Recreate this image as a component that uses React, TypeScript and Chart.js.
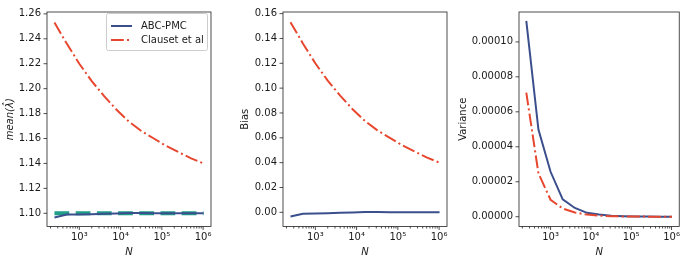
import { useEffect, useRef } from 'react';
import { Chart, registerables } from 'chart.js';

Chart.register(...registerables);

// ---- data ----
const sampleSizes = [250, 500, 1000, 2000, 4000, 8000, 16000, 32000, 64000, 128000, 256000, 512000, 1024000];
const trueLambda = [1.1, 1.1, 1.1, 1.1, 1.1, 1.1, 1.1, 1.1, 1.1, 1.1, 1.1, 1.1, 1.1];
const meanABC = [1.0967, 1.099, 1.099, 1.0992, 1.0996, 1.0999, 1.1002, 1.1002, 1.1001, 1.1001, 1.1, 1.1, 1.1];
const meanClauset = [1.253, 1.236, 1.22, 1.206, 1.194, 1.183, 1.1735, 1.166, 1.16, 1.154, 1.149, 1.144, 1.14];
const biasABC = [-0.0033, -0.0011, -0.001, -0.0008, -0.0004, -0.0001, 0.0002, 0.0002, 0.0001, 0.0001, 0.0, 0.0, 0.0];
const biasClauset = [0.153, 0.136, 0.12, 0.106, 0.094, 0.083, 0.0735, 0.066, 0.06, 0.054, 0.049, 0.044, 0.04];
const varABC = [1.12e-4, 4.98e-5, 2.57e-5, 9.9e-6, 5.0e-6, 2.2e-6, 1.2e-6, 6e-7, 3e-7, 1.5e-7, 8e-8, 4e-8, 2e-8];
const varClauset = [7.1e-5, 2.48e-5, 9.7e-6, 4.7e-6, 2.4e-6, 1.2e-6, 6e-7, 3e-7, 1.5e-7, 8e-8, 4e-8, 2e-8, 1e-8];

const xMajorTicks = [1e3, 1e4, 1e5, 1e6];
const xMinorTicks = [200, 300, 400, 500, 600, 700, 800, 900, 2e3, 3e3, 4e3, 5e3, 6e3, 7e3, 8e3, 9e3, 2e4, 3e4, 4e4, 5e4, 6e4, 7e4, 8e4, 9e4, 2e5, 3e5, 4e5, 5e5, 6e5, 7e5, 8e5, 9e5];
const meanTicks = [1.1, 1.12, 1.14, 1.16, 1.18, 1.2, 1.22, 1.24, 1.26];
const biasTicks = [0, 0.02, 0.04, 0.06, 0.08, 0.1, 0.12, 0.14, 0.16];
const varTicks = [0, 0.00002, 0.00004, 0.00006, 0.00008, 0.0001];

const seriesNames = ['ABC-PMC', 'Clauset et al'];

// ---- styles ----
const BLUE = '#3b4f8c';
const RED = '#e8472f';
const TEAL = '#1f9e89';
const FONT = "'DejaVu Sans', sans-serif";
const TEXT = '#1a1a1a';
const W = 685;
const H = 257;

const SUP: Record<string, string> = { '0': '⁰', '1': '¹', '2': '²', '3': '³', '4': '⁴', '5': '⁵', '6': '⁶', '7': '⁷', '8': '⁸', '9': '⁹' };

const decorPlugin = {
  id: 'decor',
  afterDatasetsDraw(chart: any, _args: any, opts: any) {
    const { ctx, chartArea: a, scales } = chart;
    ctx.save();
    ctx.strokeStyle = '#222';
    ctx.lineWidth = 0.8;
    ctx.strokeRect(a.left, a.top, a.right - a.left, a.bottom - a.top);
    const xs = scales.x;
    const ys = scales.y;
    ctx.beginPath();
    for (const v of xMajorTicks) {
      const px = xs.getPixelForValue(v);
      ctx.moveTo(px, a.bottom);
      ctx.lineTo(px, a.bottom + 3.5);
    }
    for (const v of xMinorTicks) {
      if (v < xs.min || v > xs.max) continue;
      const px = xs.getPixelForValue(v);
      ctx.moveTo(px, a.bottom);
      ctx.lineTo(px, a.bottom + 2);
    }
    for (const t of ys.ticks) {
      const py = ys.getPixelForValue(t.value);
      ctx.moveTo(a.left - 3.5, py);
      ctx.lineTo(a.left, py);
    }
    ctx.stroke();

    if (opts && opts.legend) {
      const right = a.right - 4;
      const left = right - 101;
      const top = a.top + 1;
      const bottom = top + 37;
      ctx.fillStyle = 'rgba(255,255,255,0.85)';
      ctx.strokeStyle = '#cccccc';
      ctx.lineWidth = 1;
      ctx.beginPath();
      (ctx as any).roundRect(left + 0.5, top + 0.5, right - left, bottom - top, 2);
      ctx.fill();
      ctx.stroke();
      const rows = [
        { y: top + 13, color: BLUE, dash: [] as number[], label: seriesNames[0] },
        { y: top + 27, color: RED, dash: [12.8, 3.2, 2, 3.2], label: seriesNames[1] },
      ];
      for (const r of rows) {
        ctx.beginPath();
        ctx.strokeStyle = r.color;
        ctx.lineWidth = 2;
        ctx.setLineDash(r.dash);
        ctx.moveTo(left + 5, r.y);
        ctx.lineTo(left + 26, r.y);
        ctx.stroke();
        ctx.setLineDash([]);
        ctx.fillStyle = TEXT;
        ctx.font = `10px ${FONT}`;
        ctx.textBaseline = 'middle';
        ctx.textAlign = 'left';
        ctx.fillText(r.label, left + 35, r.y);
      }
    }
    ctx.restore();
  },
};

type PanelCfg = {
  boxLeft: number;
  boxWidth: number;
  plotLeft: number;
  plotRight: number;
  yMin: number;
  yMax: number;
  yTicks: number[];
  decimals: number;
  yTitle: string;
  yTitlePad: number;
  yTitleItalic: boolean;
  abc: number[];
  clauset: number[];
  truth?: number[];
  legend?: boolean;
};

const panels: PanelCfg[] = [
  {
    boxLeft: 0, boxWidth: 230, plotLeft: 47, plotRight: 211,
    yMin: 1.0894, yMax: 1.2615, yTicks: meanTicks, decimals: 2,
    yTitle: 'mean(λ\u0302)', yTitlePad: 5, yTitleItalic: true,
    abc: meanABC, clauset: meanClauset, truth: trueLambda, legend: true,
  },
  {
    boxLeft: 230, boxWidth: 225, plotLeft: 283, plotRight: 447,
    yMin: -0.0114, yMax: 0.1613, yTicks: biasTicks, decimals: 2,
    yTitle: 'Bias', yTitlePad: 10, yTitleItalic: false,
    abc: biasABC, clauset: biasClauset,
  },
  {
    boxLeft: 455, boxWidth: 230, plotLeft: 519, plotRight: 683,
    yMin: -0.0000056, yMax: 0.0001171, yTicks: varTicks, decimals: 5,
    yTitle: 'Variance', yTitlePad: 3, yTitleItalic: false,
    abc: varABC, clauset: varClauset,
  },
];

function buildChart(canvas: HTMLCanvasElement, p: PanelCfg) {
  const datasets: any[] = [
    {
      label: seriesNames[0],
      data: sampleSizes.map((n, i) => ({ x: n, y: p.abc[i] })),
      borderColor: BLUE, borderWidth: 2, pointRadius: 0, tension: 0, order: 2,
    },
    {
      label: seriesNames[1],
      data: sampleSizes.map((n, i) => ({ x: n, y: p.clauset[i] })),
      borderColor: RED, borderWidth: 2, borderDash: [12.8, 3.2, 2, 3.2], pointRadius: 0, tension: 0, order: 1,
    },
  ];
  if (p.truth) {
    datasets.push({
      label: 'true',
      data: sampleSizes.map((n, i) => ({ x: n, y: p.truth![i] })),
      borderColor: TEAL, borderWidth: 4, borderDash: [14.8, 6.4], borderCapStyle: 'butt',
      pointRadius: 0, tension: 0, order: 3,
    });
  }
  return new Chart(canvas, {
    type: 'line',
    data: { datasets },
    plugins: [decorPlugin],
    options: {
      animation: false,
      responsive: false,
      devicePixelRatio: 1,
      layout: { padding: { left: 0, right: p.boxLeft + p.boxWidth - p.plotRight, top: 2, bottom: 0 } },
      plugins: {
        legend: { display: false },
        tooltip: { enabled: false },
        decor: { legend: !!p.legend },
      } as any,
      scales: {
        x: {
          type: 'logarithmic',
          min: 164.8,
          max: 1.552e6,
          grid: { display: false, drawTicks: false, tickLength: 0 },
          border: { display: false },
          afterFit: (s: any) => { s.height = 30.5; },
          afterBuildTicks: (s: any) => { s.ticks = xMajorTicks.map((v) => ({ value: v })); },
          ticks: {
            autoSkip: false,
            maxRotation: 0,
            padding: 5,
            color: TEXT,
            font: { family: FONT, size: 10 },
            callback: (v: any) => {
              const e = Math.round(Math.log10(Number(v)));
              return '10' + String(e).split('').map((c) => SUP[c]).join('');
            },
          },
          title: {
            display: true, text: 'N', color: TEXT, padding: 0,
            font: { family: FONT, size: 10, style: 'italic', lineHeight: 1 },
          },
        },
        y: {
          type: 'linear',
          min: p.yMin,
          max: p.yMax,
          grid: { display: false, drawTicks: false, tickLength: 0 },
          border: { display: false },
          afterFit: (s: any) => { s.width = p.plotLeft - p.boxLeft; },
          afterBuildTicks: (s: any) => { s.ticks = p.yTicks.map((v) => ({ value: v })); },
          ticks: {
            autoSkip: false,
            padding: 6,
            color: TEXT,
            font: { family: FONT, size: 10 },
            callback: (v: any) => Number(v).toFixed(p.decimals),
          },
          title: {
            display: true, text: p.yTitle, color: TEXT, padding: { top: p.yTitlePad, bottom: 0 },
            font: { family: FONT, size: 10, style: p.yTitleItalic ? 'italic' : 'normal', lineHeight: 1 },
          },
        },
      },
    } as any,
  });
}

export default function App() {
  const refs = [useRef<HTMLCanvasElement>(null), useRef<HTMLCanvasElement>(null), useRef<HTMLCanvasElement>(null)];
  useEffect(() => {
    const charts = panels.map((p, i) => buildChart(refs[i].current!, p));
    return () => charts.forEach((c) => c.destroy());
  }, []);
  return (
    <div style={{ position: 'absolute', left: 0, top: 0, width: W, height: H, background: '#fff', overflow: 'hidden' }}>
      {panels.map((p, i) => (
        <canvas
          key={i}
          ref={refs[i]}
          width={p.boxWidth}
          height={H}
          style={{ position: 'absolute', left: p.boxLeft, top: 0, width: p.boxWidth, height: H }}
        />
      ))}
    </div>
  );
}
